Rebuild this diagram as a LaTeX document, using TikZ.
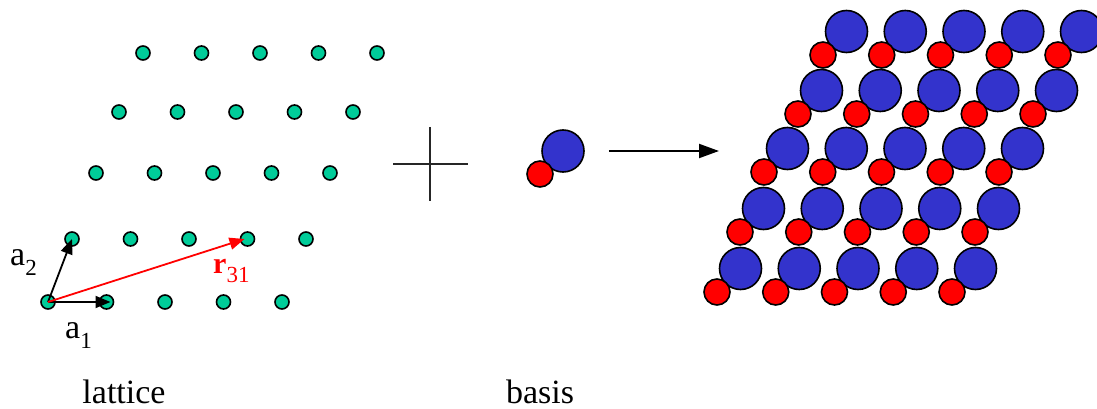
\documentclass[tikz,border=0pt]{standalone}
\usepackage{fontspec}
\setmainfont{Liberation Serif}
\usepackage{xcolor}
\usetikzlibrary{arrows.meta,positioning}
\definecolor{latgreen}{RGB}{0,204,153}
\definecolor{atomblue}{RGB}{51,51,204}
\definecolor{atomred}{RGB}{255,0,0}
\newcommand{\lsub}[1]{\raisebox{-0.3em}{\fontsize{23}{23}\selectfont #1}}
\tikzset{
  latpt/.style={circle, draw=black, line width=1.6pt, fill=latgreen, minimum size=14pt, inner sep=0pt},
  bigatom/.style={circle, draw=black, line width=1.6pt, fill=atomblue, minimum size=42pt, inner sep=0pt},
  smallatom/.style={circle, draw=black, line width=1.6pt, fill=atomred, minimum size=26pt, inner sep=0pt},
  vecarrow/.style={-{Triangle[length=15pt,width=12pt]}, line width=1.8pt},
  maparrow/.style={-{Triangle[length=20pt,width=14pt]}, line width=2pt},
  lbl/.style={font=\fontsize{34}{40}\selectfont, inner sep=0pt},
  crossline/.style={line width=2pt, draw=black!85}
}

\begin{document}
\begin{tikzpicture}[x=1pt, y=-1pt]
\useasboundingbox (0,0) rectangle (1097,409);

% lattice
\foreach \j/\xo/\yo in {0/48/302, 1/72/239, 2/96/173, 3/119/112, 4/143/53}
  \foreach \i in {0,...,4}
    \node[latpt] (p\i\j) at ({\xo+58.5*\i},\yo) {};
\draw[vecarrow] (p00.center) -- ([xshift=4pt]p10.center);
\draw[vecarrow] (p00.center) -- (p01.center);
\draw[vecarrow, draw=red, fill=red] (p00.center) -- ([xshift=-3pt]p31.center);
\node[lbl, anchor=base west] (a1lbl) at (65,338) {a\lsub{1}};
\node[lbl, anchor=base west] (a2lbl) at (10,265) {a\lsub{2}};
\node[lbl, anchor=base west, text=red, font=\fontsize{30}{36}\selectfont] (r31lbl) at (213,273) {\textbf{r}\lsub{31}};
\node[lbl, anchor=base] (latlbl) at (124,403) {lattice};

% plus
\coordinate (plus) at (430,164);
\draw[crossline] ([xshift=-37pt]plus) -- ([xshift=38pt]plus);
\draw[crossline] ([yshift=37pt]plus) -- ([yshift=-37pt]plus);

% basis
\node[bigatom] (bblue) at (563,151) {};
\node[smallatom] (bred) at (540,174) {};
\node[lbl, anchor=base] (baslbl) at (540,403) {basis};

\coordinate (crys) at (719,151);
\draw[maparrow] ([xshift=24pt]bblue.east) -- (crys);

% crystal
\foreach \j/\xo/\yo in {0/717/292, 1/740/232, 2/764/172, 3/798/114, 4/823/55}
  \foreach \i in {0,...,4} {
    \node[bigatom] (c\i\j) at ({\xo+23.5+58.75*\i},{\yo-23.5}) {};
    \node[smallatom] (d\i\j) at ({\xo+58.75*\i},\yo) {};
  }
\end{tikzpicture}
\end{document}
